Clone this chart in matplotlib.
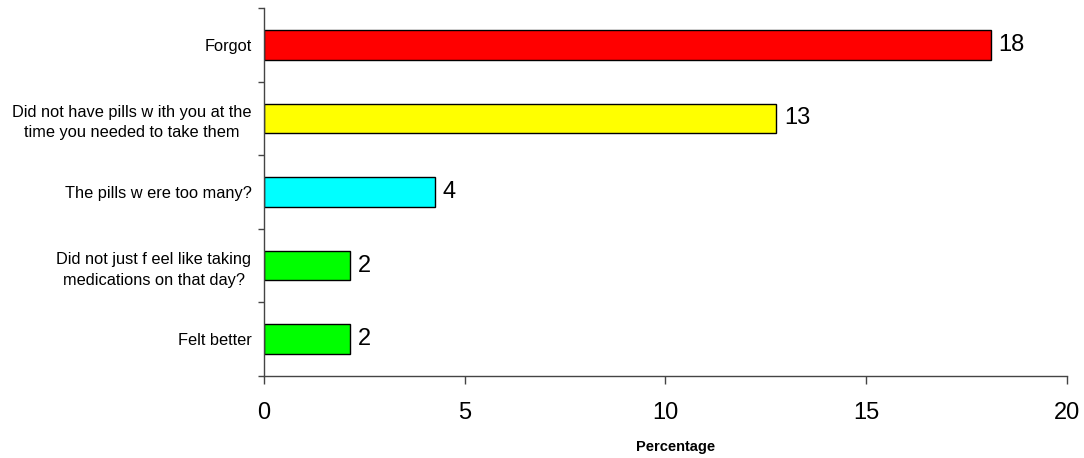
import matplotlib
matplotlib.use('Agg')
import matplotlib.pyplot as plt
import numpy as np

plt.rcParams['font.family'] = ['Liberation Sans', 'DejaVu Sans']

# top to bottom in the picture
reasons = ['Forgot',
           'Did not have pills w ith you at the\ntime you needed to take them',
           'The pills w ere too many?',
           'Did not just f eel like taking\nmedications on that day?',
           'Felt better']
percentages = [18.1, 12.75, 4.25, 2.15, 2.15]
value_labels = ['18', '13', '4', '2', '2']
bar_colors = ['#ff0000', '#ffff00', '#00ffff', '#00ff00', '#00ff00']

fig = plt.figure(figsize=(10.84, 4.58), dpi=100)
ax = fig.add_axes([0.2435, 0.179, 0.7408, 0.8035])

n = len(reasons)
ypos = np.arange(n)[::-1]
ax.barh(ypos, percentages, height=0.4, color=bar_colors,
        edgecolor='black', linewidth=1.0)

for y, v, lab in zip(ypos, percentages, value_labels):
    ax.text(v + 0.2, y, lab, va='center', ha='left', fontsize=17)

ax.set_xlim(0, 20)
ax.set_ylim(-0.5, n - 0.5)

ax.set_yticks(ypos)
ax.set_yticklabels(reasons, fontsize=11.8, multialignment='center',
                   linespacing=1.45)
ax.tick_params(axis='y', length=0, pad=9)
ax.set_yticks(np.arange(-0.5, n), minor=True)
ax.tick_params(axis='y', which='minor', length=4, width=1, color='#444444')

ax.set_xticks([0, 5, 10, 15, 20])
ax.tick_params(axis='x', labelsize=17, length=6, width=1, color='#444444', pad=13)
ax.set_xlabel('Percentage', fontsize=10.5, fontweight='bold')
ax.xaxis.set_label_coords(0.513, -0.175)

for s in ['top', 'right']:
    ax.spines[s].set_visible(False)
for s in ['left', 'bottom']:
    ax.spines[s].set_color('#444444')
    ax.spines[s].set_linewidth(1)

plt.savefig('out.png', dpi=100)
